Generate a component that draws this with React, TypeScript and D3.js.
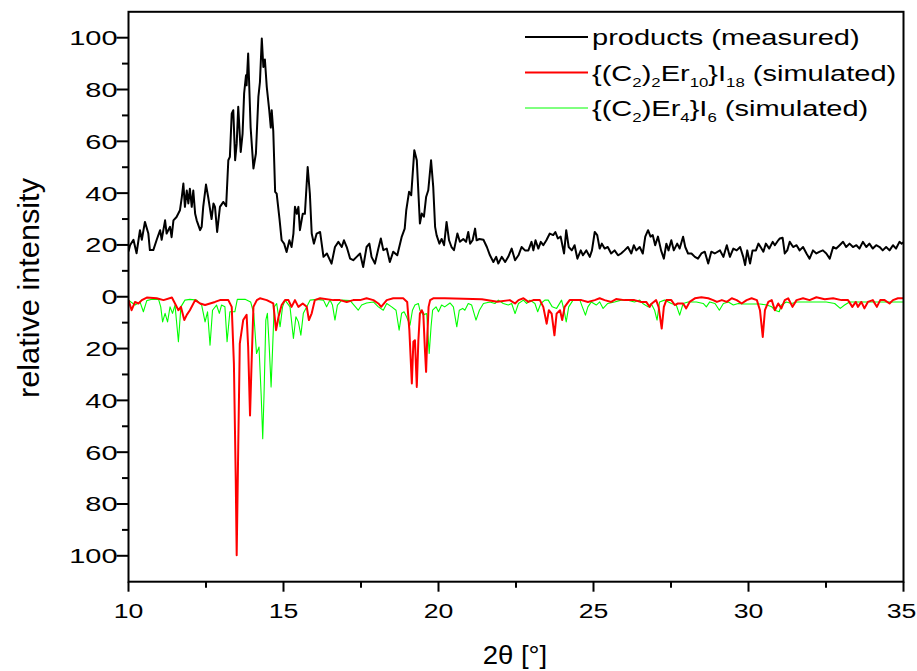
import React from "react";
import * as d3 from "d3";

const measuredX = [10.00,10.05,10.16,10.26,10.37,10.43,10.53,10.64,10.69,10.80,10.91,11.02,11.07,11.18,11.23,11.34,11.39,11.45,11.55,11.66,11.72,11.77,11.82,11.88,11.93,11.98,12.04,12.09,12.15,12.20,12.31,12.36,12.41,12.50,12.57,12.68,12.74,12.79,12.86,12.95,13.06,13.15,13.22,13.27,13.33,13.38,13.44,13.49,13.54,13.62,13.68,13.73,13.79,13.81,13.86,13.94,14.03,14.11,14.19,14.24,14.30,14.35,14.40,14.46,14.54,14.59,14.62,14.67,14.73,14.78,14.87,14.94,15.02,15.10,15.19,15.26,15.32,15.37,15.43,15.48,15.53,15.62,15.69,15.78,15.85,15.91,15.98,16.07,16.18,16.29,16.40,16.55,16.66,16.77,16.88,16.95,17.04,17.15,17.25,17.36,17.47,17.57,17.68,17.77,17.84,17.95,18.06,18.14,18.22,18.33,18.43,18.54,18.67,18.81,18.91,18.96,19.05,19.12,19.22,19.30,19.40,19.46,19.53,19.60,19.67,19.76,19.83,19.89,19.94,20.03,20.10,20.18,20.26,20.34,20.42,20.50,20.61,20.69,20.80,20.89,20.96,21.02,21.10,21.18,21.23,21.32,21.45,21.56,21.66,21.77,21.86,21.93,22.04,22.15,22.25,22.36,22.47,22.58,22.68,22.79,22.90,23.00,23.06,23.13,23.22,23.30,23.38,23.48,23.59,23.70,23.77,23.85,23.94,24.05,24.12,24.20,24.30,24.39,24.48,24.59,24.66,24.77,24.88,24.95,25.04,25.12,25.20,25.27,25.36,25.46,25.57,25.68,25.79,25.89,26.00,26.11,26.22,26.30,26.38,26.49,26.59,26.67,26.76,26.84,26.91,26.99,27.08,27.18,27.27,27.35,27.42,27.51,27.59,27.70,27.78,27.89,27.96,28.05,28.16,28.27,28.37,28.48,28.59,28.70,28.80,28.91,29.08,29.19,29.30,29.40,29.51,29.62,29.73,29.83,29.89,29.96,30.05,30.13,30.24,30.32,30.39,30.48,30.56,30.67,30.78,30.85,30.96,31.01,31.10,31.17,31.25,31.33,31.44,31.55,31.65,31.76,31.87,31.97,32.08,32.19,32.30,32.40,32.51,32.62,32.73,32.83,32.94,33.05,33.15,33.26,33.37,33.48,33.58,33.69,33.80,33.90,34.01,34.12,34.23,34.33,34.44,34.55,34.66,34.76,34.87,34.94,35.00];
const measuredY = [17.5,19.9,22,16.8,25.7,22,28.9,24.4,18,18,22,25.7,22,29.5,24.4,27,23,29.5,30.8,33.4,38.5,43.7,34.7,41,36,41.7,34.7,41,32,29.5,25.7,27,34.7,43.3,38.5,30,36,34.7,25,34.7,36.6,35,52.7,54,70.7,72,52.7,59,73.3,55.9,63,78.5,85.5,81.6,93.9,65.3,49.5,55.3,77.2,82.9,99.7,88.7,91.6,81,72,65.3,72,64,40.5,39.8,30.2,21.8,20.5,17.3,21.8,19.2,24.4,34.7,32,34.7,25.7,32,32,50.1,39.8,24.4,20.5,24.4,25,15.4,16.7,12.8,19.2,21.2,19.2,21.8,19.2,14.7,14.1,15.4,16.7,11.5,19.2,20.5,15.4,12.8,18.6,22.5,18,18.6,13.4,17.4,16,23,26.3,33.4,40.5,39.2,56.6,52.7,28.3,32.1,30.9,38.5,41.1,52.7,42.4,27,23.7,20.5,22.3,19.9,28.9,21.8,19.2,18,24.4,21.2,22.3,21.2,25,20.5,21.8,26.3,21.8,22.3,22,19.2,16,13.4,15.4,12.8,15.4,13.4,15.4,18.6,14.1,16,19.2,17.9,17.9,21.2,17.9,21.8,18.6,21.2,19.9,21.8,24.4,23.8,25,22.5,23.2,16.7,25.7,19.2,17.9,19.9,14.7,17.9,16,17.9,15.4,17.9,25,23.8,18.6,20.5,18.6,19.2,16.7,17.9,16,16.7,17.9,19.2,16.7,19.9,17.9,19.2,16.7,23.2,25.7,23.2,23.8,19.9,23.2,17.9,14.7,20.5,17.9,21.8,17.9,20.5,18.6,23.2,19.2,16.7,16.7,15.4,14.7,16.7,17.4,12.8,17.4,16.7,17.9,15.4,19.9,15.4,18.6,17.9,19.2,15.4,12.2,17.9,12.8,17.9,17.9,20.5,19.2,17.4,20.5,18.6,21.2,19.9,21.8,22.5,22.8,16.7,17.9,21.2,19.2,19.9,17.9,19.2,16.7,14.7,17.9,16.7,17.4,17.9,16.7,14.7,19.2,18.6,19.9,21.2,19.2,20.5,19.2,19.9,18.6,21.2,19.2,20.5,18.6,19.9,19.2,17.9,19.2,17.9,19.9,18.6,21.2,20.5,21];

const er10X = [10.00,10.10,10.21,10.32,10.43,10.59,10.91,11.13,11.40,11.50,11.61,11.69,11.80,11.88,11.98,12.15,12.31,12.47,12.63,12.79,12.95,13.22,13.33,13.40,13.46,13.49,13.54,13.59,13.70,13.81,13.86,13.92,13.97,14.03,14.14,14.24,14.46,14.67,14.76,14.84,14.94,15.05,15.16,15.26,15.37,15.48,15.62,15.75,15.82,15.91,16.01,16.18,16.61,16.82,17.04,17.25,17.47,17.68,17.90,18.06,18.15,18.33,18.54,18.86,18.99,19.06,19.14,19.19,19.24,19.30,19.35,19.40,19.46,19.51,19.56,19.60,19.64,19.68,19.73,19.83,20.20,20.80,21.40,21.90,22.30,22.47,22.58,22.74,22.90,23.06,23.27,23.38,23.49,23.56,23.65,23.74,23.81,23.92,23.99,24.07,24.23,24.39,24.61,24.82,25.04,25.20,25.36,25.57,25.73,26.00,26.32,26.54,26.70,26.81,26.88,27.02,27.10,27.20,27.27,27.35,27.51,27.62,27.72,27.89,27.99,28.10,28.27,28.48,28.70,28.86,28.98,29.14,29.30,29.46,29.62,29.78,29.94,30.10,30.27,30.37,30.46,30.53,30.64,30.75,30.85,30.96,31.06,31.17,31.28,31.42,31.55,31.76,31.97,32.19,32.46,32.73,33.00,33.21,33.35,33.46,33.53,33.64,33.74,33.85,34.01,34.14,34.25,34.39,34.55,34.66,34.82,35.00];
const er10Y = [1.3,5.2,2,2.6,1.3,0.3,0.6,1.3,0.3,2.6,5.2,3.9,9,7,5.2,1.3,2.6,3.2,2.6,2,1.3,1.3,3.9,25.8,70.8,99.8,58,18.1,9,7,19.4,45.8,25.8,3.9,1.3,0.6,1.3,2.6,12.9,7.7,3.2,1.3,1.3,3.9,1.3,3.9,2.6,3.9,9,6.4,1.3,0.6,1.3,1.3,2,1.3,1.3,0.6,1.3,2.6,3.9,1.3,0.6,0.6,2,12.9,33.5,17.4,16.8,34.8,17,6.5,5.2,6.5,20,29,15,3.9,1.3,0.6,0.6,0.8,1,1.9,1.3,2.6,1.3,0.6,2,1.3,1.3,3.9,10.4,5.2,6.5,14.9,6.5,5.2,9,3.9,1.3,1.3,1.3,2,1.3,0.6,1.3,2,0.9,1.3,1.3,2,2,3.9,2.6,1.3,3.9,12.3,3.9,1.3,1.3,3.2,2.6,2.6,4.5,2,0.6,0.2,0.6,1.3,2,1.3,2,0.6,1.3,2.6,1.3,0.6,1.3,5.2,15.5,5.2,2,1.3,5.2,2.6,4.5,1.3,0.6,3.9,1.3,0.6,1.3,0.2,1,0.6,1.3,1.3,3.9,2,3.9,2,4.5,2,1.3,3.9,1.3,1.3,2.6,1.3,0.6,0.6];

const er4X = [10.00,10.21,10.37,10.48,10.59,10.75,10.97,11.04,11.10,11.18,11.26,11.34,11.42,11.50,11.61,11.69,11.82,11.98,12.20,12.36,12.47,12.55,12.63,12.71,12.84,12.93,13.00,13.11,13.18,13.27,13.43,13.51,13.76,13.94,14.04,14.13,14.21,14.28,14.33,14.37,14.43,14.48,14.54,14.60,14.65,14.70,14.78,14.89,14.97,15.05,15.21,15.32,15.40,15.48,15.56,15.64,15.75,15.86,16.07,16.29,16.39,16.50,16.58,16.66,16.74,16.88,17.15,17.41,17.52,17.68,17.90,18.06,18.22,18.33,18.49,18.63,18.73,18.81,18.89,18.97,19.08,19.16,19.24,19.35,19.40,19.51,19.62,19.70,19.76,19.81,19.92,20.00,20.10,20.20,20.37,20.48,20.59,20.67,20.78,20.85,20.96,21.07,21.21,21.32,21.45,21.66,21.82,21.93,22.09,22.25,22.36,22.47,22.58,22.74,22.84,22.95,23.11,23.20,23.30,23.43,23.54,23.67,23.81,23.97,24.05,24.12,24.20,24.34,24.56,24.64,24.74,24.82,24.93,25.09,25.20,25.31,25.46,25.68,25.89,26.11,26.32,26.49,26.59,26.76,26.86,26.97,27.05,27.13,27.29,27.51,27.67,27.78,27.89,28.05,28.32,28.54,28.64,28.75,28.92,29.06,29.19,29.35,29.51,29.67,29.83,30.10,30.37,30.59,30.75,30.85,30.99,31.06,31.22,31.39,31.55,31.87,32.19,32.51,32.78,32.96,33.10,33.26,33.58,33.90,34.23,34.55,35.00];
const er4Y = [1.3,3.2,2,5.8,1.5,1,1,3.9,9.7,6.4,9.7,3.9,6.4,3.2,17.4,3.9,1.3,1,1.3,3.2,9.7,5.8,18.7,5.2,3.2,6.4,3.2,3.9,17.4,5.8,5.8,1,1,2,6.4,21.9,19.4,38,54.8,38.6,9,6.4,19.4,34.8,19.4,3.9,2.6,11.6,3.9,1.3,3.9,16.1,7.7,9.7,14.8,6.4,3.9,1.3,1,1.3,3.9,1.3,3.2,9,3.2,1.3,1.5,5.2,3.2,2.4,2,3.9,5.2,2.6,3.9,5.2,12.9,6.4,5.8,7.7,11,5.2,3.2,2.6,5.2,7,6.5,21.9,11.6,5.2,3.9,5.8,3.2,3.9,2.4,3.9,11.6,5.2,4.5,5.2,2.6,3.2,9,5.2,2.6,2,2.6,1.3,2.6,3.2,2.6,6.5,2.6,1.3,2.6,1.3,2.6,5.8,2.6,1.3,1.3,3.9,4.5,1.3,5.2,9.7,3.9,1.3,1.3,3.9,7.1,3.9,2,3.2,2,4.5,2.6,2,1.3,1.3,2,1.3,2.6,3.9,2.6,5.2,9,2,1.3,2.6,3.2,7.1,2.6,2,2,2.6,3.9,2,2.6,5.2,2.6,2,3.2,2.6,2.8,2.8,2.8,3.2,3.9,5.2,5.8,3.2,2,2.6,2,2,2,2,2.6,4.5,3.2,2,2,2,2,2,2];

const xTicks = [10, 15, 20, 25, 30, 35];
const xMinorTicks = [12.5, 17.5, 22.5, 27.5, 32.5];
const yTicks = [-100, -80, -60, -40, -20, 0, 20, 40, 60, 80, 100];
const yMinorTicks = [-90, -70, -50, -30, -10, 10, 30, 50, 70, 90];

const legendItems = [
  { color: "#000000", width: 2, parts: [["products (measured)", false]] },
  { color: "#ff0000", width: 2, parts: [["{(C", false], ["2", true], [")", false], ["2", true], ["Er", false], ["10", true], ["}I", false], ["18", true], [" (simulated)", false]] },
  { color: "#00ff00", width: 1, parts: [["{(C", false], ["2", true], [")Er", false], ["4", true], ["}I", false], ["6", true], [" (simulated)", false]] },
];

const FONT = "'Liberation Sans', Arial, sans-serif";

export default function App() {
  const W = 917, H = 671;
  const left = 128.5, right = 903.5, top = 11.8, bottom = 581.7;
  const x = d3.scaleLinear().domain([10, 35]).range([left, right]);
  const y = d3.scaleLinear().domain([-110, 110]).range([bottom, top]);

  const measured = measuredX.map((v, i) => [v, measuredY[i]] as [number, number]);
  const er10 = er10X.map((v, i) => [v, -er10Y[i]] as [number, number]);
  const er4 = er4X.map((v, i) => [v, -er4Y[i]] as [number, number]);
  const line = d3.line<[number, number]>().x(d => x(d[0])).y(d => y(d[1]));

  const legendRows = [37, 72.5, 108];

  return (
    <svg width={W} height={H} style={{ position: "absolute", left: 0, top: 0, background: "#fff" }}>
      <rect x={0} y={0} width={W} height={H} fill="#fff" />
      <defs>
        <clipPath id="plotclip">
          <rect x={left} y={top} width={right - left} height={bottom - top} />
        </clipPath>
      </defs>
      <g clipPath="url(#plotclip)">
        <path d={line(er4) || ""} fill="none" stroke="#00ff00" strokeWidth={1.1} strokeLinejoin="round" />
        <path d={line(er10) || ""} fill="none" stroke="#ff0000" strokeWidth={2} strokeLinejoin="round" />
        <path d={line(measured) || ""} fill="none" stroke="#000" strokeWidth={2} strokeLinejoin="round" />
      </g>
      <rect x={left} y={top} width={right - left} height={bottom - top} fill="none" stroke="#000" strokeWidth={2} />
      {xTicks.map(t => (
        <g key={"xt" + t}>
          <line x1={x(t)} x2={x(t)} y1={bottom} y2={bottom + 10} stroke="#000" strokeWidth={2} />
          <text transform={`translate(${x(t) - (t === 35 ? 2 : 0)},${bottom + 36}) scale(1.3,1)`} textAnchor="middle" fontFamily={FONT} fontSize={20.5}>{t}</text>
        </g>
      ))}
      {xMinorTicks.map(t => (
        <line key={"xm" + t} x1={x(t)} x2={x(t)} y1={bottom} y2={bottom + 6} stroke="#000" strokeWidth={2} />
      ))}
      {yTicks.map(t => (
        <g key={"yt" + t}>
          <line x1={left - 12} x2={left} y1={y(t)} y2={y(t)} stroke="#000" strokeWidth={2} />
          <text transform={`translate(${left - 11},${y(t) + 7.5}) scale(1.38,1)`} textAnchor="end" fontFamily={FONT} fontSize={21}>{Math.abs(t)}</text>
        </g>
      ))}
      {yMinorTicks.map(t => (
        <line key={"ym" + t} x1={left - 6.5} x2={left} y1={y(t)} y2={y(t)} stroke="#000" strokeWidth={2} />
      ))}
      <text transform="translate(515,664) scale(1.1,1)" textAnchor="middle" fontFamily={FONT} fontSize={25}>2θ [°]</text>
      <text transform="translate(39,288) rotate(-90)" textAnchor="middle" fontFamily={FONT} fontSize={29} textLength={220} lengthAdjust="spacingAndGlyphs">relative intensity</text>
      {legendItems.map((item, i) => (
        <g key={"lg" + i}>
          <line x1={525} x2={588} y1={legendRows[i]} y2={legendRows[i]} stroke={item.color} strokeWidth={item.width} />
          <text transform={`translate(592,${legendRows[i] + 8}) scale(1.29,1)`} fontFamily={FONT} fontSize={22.5}>
            {item.parts.map((p, j) => {
              const prevSub = j > 0 && item.parts[j - 1][1];
              const isSub = p[1] as boolean;
              const dy = isSub && !prevSub ? 6 : !isSub && prevSub ? -6 : 0;
              return (
                <tspan key={j} fontSize={isSub ? 13 : 22.5} dy={dy}>{p[0] as string}</tspan>
              );
            })}
          </text>
        </g>
      ))}
    </svg>
  );
}
